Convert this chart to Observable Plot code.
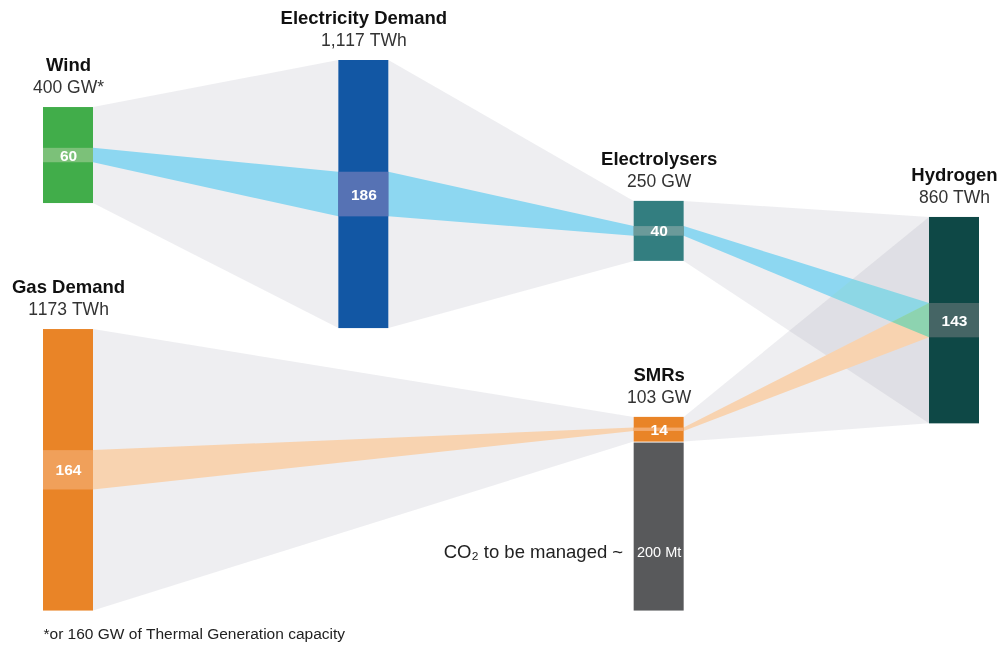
<!DOCTYPE html>
<html>
<head>
<meta charset="utf-8">
<script src="https://cdn.jsdelivr.net/npm/d3@7"></script>
<script src="https://cdn.jsdelivr.net/npm/@observablehq/plot@0.6"></script>
<style>
  body { margin: 0; background: #fff; }
  #chart svg { display: block; font-kerning: none; }
</style>
</head>
<body>
<div id="chart"></div>
<script>
// ---------------- DATA ----------------
const nodeNames   = ["Wind", "Electricity Demand", "Electrolysers", "Hydrogen", "Gas Demand", "SMRs", "CO2"];
const nodeCaptions = ["400 GW*", "1,117 TWh", "250 GW", "860 TWh", "1173 TWh", "103 GW", ""];
const nodeValues  = [400, 1117, 250, 860, 1173, 103, 200];
const flowValues  = [60, 186, 40, 143, 164, 14, null];   // highlighted share shown inside each node
const linkSources = ["Wind", "Electricity Demand", "Electrolysers", "Gas Demand", "SMRs"];
const linkTargets = ["Electricity Demand", "Electrolysers", "Hydrogen", "SMRs", "Hydrogen"];
const co2Value = "200 Mt";
const co2Note = "CO₂ to be managed ~";
const footnote = "*or 160 GW of Thermal Generation capacity";

// ---------------- LAYOUT & STYLE (not data) ----------------
const column = {"Wind": 0, "Electricity Demand": 1, "Electrolysers": 2, "Hydrogen": 3, "Gas Demand": 0, "SMRs": 2, "CO2": 2};
const topOffset = {"Wind": 446, "Electricity Demand": 250, "Electrolysers": 837, "Hydrogen": 904, "Gas Demand": 1371, "SMRs": 1737};
const nodeFill = {"Wind": "#41ad4a", "Electricity Demand": "#1257a4", "Electrolysers": "#337e80", "Hydrogen": "#0e4846",
                  "Gas Demand": "#e98427", "SMRs": "#e98427", "CO2": "#58595b"};
const bandFill = {"Wind": "#7cc179", "Electricity Demand": "#5672b4", "Electrolysers": "#6b9a9a", "Hydrogen": "#456565",
                  "Gas Demand": "#f0a05a", "SMRs": "#f2aa6e"};
const linkColor = {"Wind": "#8dd7f5", "Electricity Demand": "#8dd7f5", "Electrolysers": "#8dd7f5", "Gas Demand": "#f8d3b0", "SMRs": "#f8d3b0"};

const W = 1000, H = 645;
const K = 0.24;               // pixels per unit of value
const half = 25 / (886 / 3);  // half node width in column units

// Build nodes
const nodes = nodeNames.map((name, i) => ({name, caption: nodeCaptions[i], value: nodeValues[i], flow: flowValues[i], col: column[name]}));
const byName = Object.fromEntries(nodes.map(d => [d.name, d]));
nodes.forEach(d => {
  if (d.name !== "CO2") { d.y1 = topOffset[d.name]; d.y2 = d.y1 + d.value; }
});
// CO2 box sits right under the SMRs and runs down to the base of the gas column
byName["CO2"].y1 = byName["SMRs"].y2 + 4;
byName["CO2"].y2 = byName["Gas Demand"].y2;
nodes.forEach(d => {
  d.cy = (d.y1 + d.y2) / 2;
  if (d.flow != null) { d.b1 = d.cy - d.flow / 2; d.b2 = d.cy + d.flow / 2; }
});
const mainNodes = nodes.filter(d => d.name !== "CO2");
const bands = nodes.filter(d => d.flow != null);
const co2 = byName["CO2"];

// Links
const greyPts = [], bluePts = [], orangePts = [];
linkSources.forEach((s, i) => {
  const a = byName[s], b = byName[linkTargets[i]];
  const id = s + "->" + b.name;
  greyPts.push({id, x: a.col + half, y1: a.y1, y2: a.y2}, {id, x: b.col - half, y1: b.y1, y2: b.y2});
  const target = linkColor[s] === "#8dd7f5" ? bluePts : orangePts;
  target.push({id, color: linkColor[s], x: a.col + half, y1: a.b1, y2: a.b2},
              {id, color: linkColor[s], x: b.col - half, y1: b.b1, y2: b.b2});
});

const font = "'Liberation Sans', Arial, Helvetica, sans-serif";

const chart = Plot.plot({
  width: W, height: H, margin: 0,
  x: {domain: [0, 3], range: [68, 954], axis: null},
  y: {domain: [0, H / K], range: [0, H], axis: null},
  color: {type: "identity"},
  style: {fontFamily: font, background: "#fff"},
  marks: [
    Plot.areaY(greyPts, {x: "x", y1: "y1", y2: "y2", z: "id", fill: "#888899", fillOpacity: 0.14, curve: "linear"}),
    Plot.areaY(orangePts, {x: "x", y1: "y1", y2: "y2", z: "id", fill: "color", curve: "linear"}),
    Plot.areaY(bluePts, {x: "x", y1: "y1", y2: "y2", z: "id", fill: "color", curve: "linear", mixBlendMode: "darken"}),
    Plot.rect(nodes, {x1: d => d.col - half, x2: d => d.col + half, y1: "y1", y2: "y2", fill: d => nodeFill[d.name]}),
    Plot.rect(bands, {x1: d => d.col - half, x2: d => d.col + half, y1: "b1", y2: "b2", fill: d => bandFill[d.name]}),
    // node titles and captions
    Plot.text(mainNodes, {x: "col", y: "y1", text: "name", dy: -42, fontSize: 18.5, fontWeight: "bold", fill: "#111"}),
    Plot.text(mainNodes, {x: "col", y: "y1", text: "caption", dy: -20, fontSize: 17.5, fill: "#333"}),
    // values inside nodes
    Plot.text(bands, {x: "col", y: "cy", text: d => String(d.flow), fontSize: 15.5, fontWeight: "bold", fill: "#fff"}),
    // CO2
    Plot.text([co2], {x: "col", y: "cy", text: () => co2Value, dy: 25, fontSize: 14.5, fill: "#fff"}),
    Plot.text([co2], {x: d => d.col - half, y: "cy", text: () => co2Note, dy: 25, dx: -11, textAnchor: "end", fontSize: 18.5, fill: "#222"}),
    // footnote
    Plot.text([byName["Gas Demand"]], {x: d => d.col - half, y: "y2", text: () => footnote, dy: 23, textAnchor: "start", fontSize: 15.5, fill: "#222"})
  ]
});
document.getElementById("chart").appendChild(chart);
</script>
</body>
</html>
